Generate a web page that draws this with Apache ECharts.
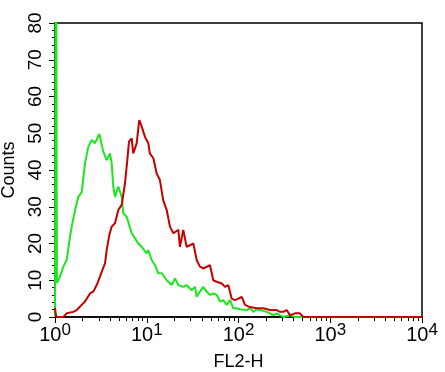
<!DOCTYPE html>
<html>
<head>
<meta charset="utf-8">
<script src="https://cdn.jsdelivr.net/npm/echarts@6/dist/echarts.min.js"></script>
<style>
html, body { margin: 0; padding: 0; background: #fff; }
#chart { width: 445px; height: 372px; }
</style>
</head>
<body>
<div id="chart"></div>
<script>
// FL2-H channel values (log scale) and counts
var greenX = [1.0, 1.02, 1.05, 1.078, 1.134, 1.232, 1.341, 1.457, 1.521, 1.652, 1.795, 1.954, 2.123, 2.307, 2.512, 2.729, 3.04, 3.359, 3.66, 3.977, 4.15, 4.315, 4.508, 4.896, 5.333, 5.546, 6.04, 6.29, 6.85, 7.45, 8.09, 8.81, 9.98, 10.4, 11.3, 12.3, 13.4, 14.6, 16.5, 18.7, 20.3, 22.1, 25.0, 27.2, 30.9, 33.6, 35.0, 38.0, 41.3, 45.0, 48.9, 53.1, 57.8, 62.8, 68.3, 74.3, 80.7, 87.7, 95.5, 103.8, 122.7, 133.4, 145, 157.8, 171.5, 202.9, 239.4, 260.8, 307.7, 364, 413, 10000];
var greenY = [0, 150, 9.3, 9.3, 11, 13.7, 15.5, 21.8, 24.6, 29, 32.7, 34, 41.8, 46.3, 48.2, 47.3, 49.8, 45, 42.7, 44.5, 41.8, 35.5, 32.7, 35.5, 32.7, 28.2, 27.3, 27.8, 22.8, 21.4, 20, 19.1, 17.3, 18.2, 15.5, 14.1, 11.9, 11.9, 10, 8.7, 10.5, 8.7, 8.2, 8.7, 7.3, 8.2, 5.5, 6.9, 8.2, 6.9, 6, 6.4, 6, 4.2, 4.6, 3.3, 4.6, 2.4, 2.4, 2.1, 1.9, 2.4, 1.4, 2.1, 1.9, 1.4, 0.5, 1, 0, 0.5, 0, 0];

var redX = [1.0, 1.03, 1.086, 1.232, 1.341, 1.583, 1.724, 1.954, 2.123, 2.407, 2.615, 2.848, 3.094, 3.228, 3.507, 3.66, 3.908, 4.15, 4.508, 4.896, 5.333, 5.795, 6.137, 6.405, 6.85, 7.13, 7.77, 8.29, 8.81, 9.57, 10.4, 10.8, 11.8, 12.8, 13.9, 15.1, 16.5, 17.9, 19.5, 22.1, 23.0, 25.0, 27.2, 32.2, 35.0, 38.0, 41.3, 48.9, 53.1, 57.8, 65.6, 71.3, 77.4, 84.3, 91.6, 99.5, 108.4, 117.7, 133.4, 157.8, 186.2, 220.3, 260.8, 283.3, 307.7, 335, 364, 413, 468, 508, 10000];
var redY = [2.5, 0, 0, 0, 1, 1.4, 1.9, 3.3, 4.2, 6.4, 6.9, 8.7, 11, 12.3, 14.6, 18.2, 22.3, 24.6, 25.5, 29.1, 30.5, 36.4, 42.7, 47.7, 48.6, 44.5, 47.3, 53.6, 51.8, 49, 47.3, 44.5, 43.2, 39.1, 37.3, 31.8, 29.1, 24.6, 22.8, 23.7, 19.1, 23.7, 19.1, 20, 15.5, 13.7, 13.2, 14.1, 10, 9.6, 9.1, 8.2, 8.7, 5, 4.6, 5, 5.5, 3.3, 2.7, 2.4, 2.4, 1.9, 1.9, 1.4, 1.4, 1.9, 0.5, 1, 1, 0, 0];

var majorTicks = [1, 10, 100, 1000, 10000];
var minorTicks = [];
for (var d = 1; d < 10000; d *= 10) {
    for (var m = 2; m <= 9; m++) minorTicks.push(d * m);
}

function pairs(xs, ys) {
    return xs.map(function (x, i) { return [x, ys[i]]; });
}

var font = 'Liberation Sans, Arial, sans-serif';
var chart = echarts.init(document.getElementById('chart'));

var option = {
    animation: false,
    backgroundColor: '#fff',
    grid: {
        left: 55, right: 23, top: 23, bottom: 55,
        outerBoundsMode: 'none', containLabel: false,
        show: true, borderColor: '#000', borderWidth: 1.5, backgroundColor: 'transparent'
    },
    xAxis: [
        {
            type: 'log', logBase: 10, min: 1, max: 10000,
            name: 'FL2-H', nameLocation: 'middle', nameGap: 36,
            nameTextStyle: { fontFamily: font, fontSize: 18, color: '#000' },
            axisLine: { lineStyle: { color: '#000', width: 1.5 } },
            axisTick: { length: 6, lineStyle: { color: '#000' }, customValues: majorTicks },
            splitLine: { show: false },
            axisLabel: {
                margin: 5,
                customValues: majorTicks,
                fontFamily: font, fontSize: 20, color: '#000',
                formatter: function (v) {
                    return '10{sup|' + Math.round(Math.log10(v)) + '}';
                },
                rich: {
                    sup: { fontFamily: font, fontSize: 17, color: '#000', padding: [0, 0, 10, 0] }
                }
            }
        },
        {
            type: 'log', logBase: 10, min: 1, max: 10000, position: 'bottom',
            axisLine: { show: false },
            axisTick: { length: 4, lineStyle: { color: '#000' }, customValues: minorTicks },
            axisLabel: { show: false },
            splitLine: { show: false }
        }
    ],
    yAxis: {
        type: 'value', min: 0, max: 80, interval: 10,
        name: 'Counts', nameLocation: 'middle', nameGap: 36,
        nameTextStyle: { fontFamily: font, fontSize: 18, color: '#000' },
        axisLine: { show: true, lineStyle: { color: '#000', width: 1.5 } },
        axisTick: { show: true, length: 6, lineStyle: { color: '#000' } },
        minorTick: { show: true, splitNumber: 5, length: 3, lineStyle: { color: '#000' } },
        splitLine: { show: false },
        axisLabel: { rotate: 90, margin: 10, fontFamily: font, fontSize: 19, color: '#000' }
    },
    series: [
        {
            name: 'green', type: 'line', xAxisIndex: 0, data: pairs(greenX, greenY),
            showSymbol: false, clip: true,
            lineStyle: { color: '#1ee61e', width: 2 }
        },
        {
            name: 'red', type: 'line', xAxisIndex: 0, data: pairs(redX, redY),
            showSymbol: false, clip: true,
            lineStyle: { color: '#c40000', width: 2 }
        }
    ]
};
chart.setOption(option);
</script>
</body>
</html>
